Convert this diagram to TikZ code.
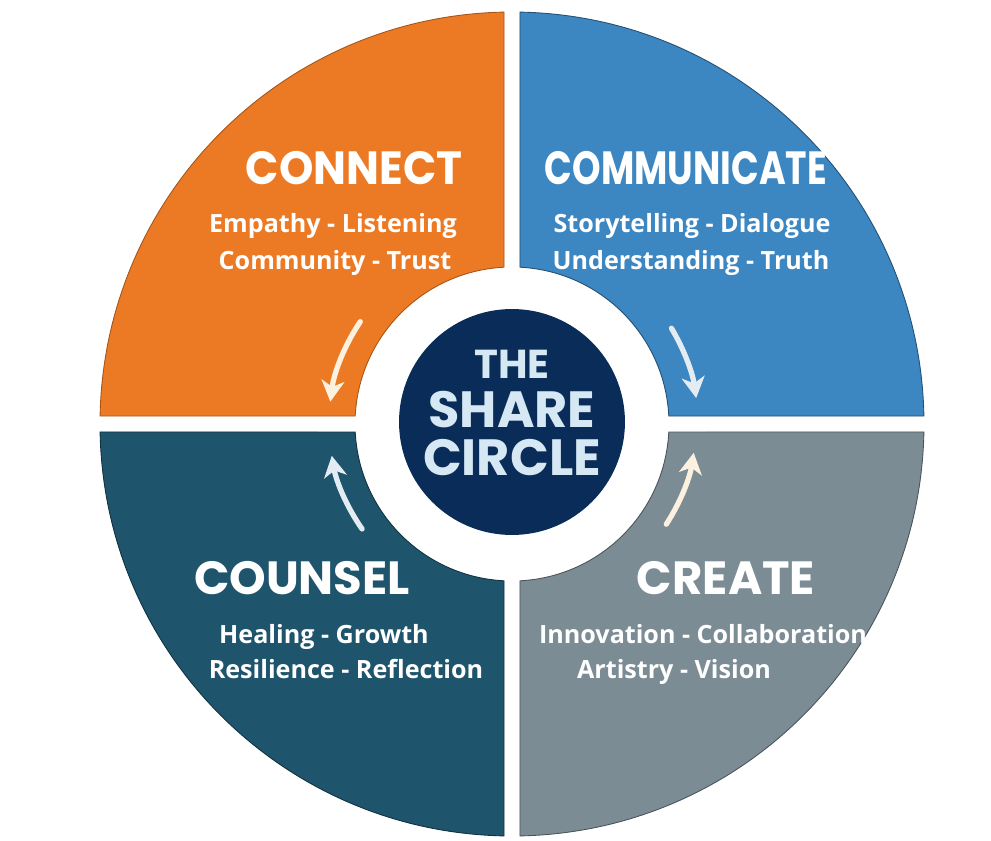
\documentclass[tikz,border=0pt]{standalone}
\usepackage{fontspec}
\setmainfont{Open Sans}
\newfontfamily\titlefont{Poppins}
\usetikzlibrary{arrows.meta}
\definecolor{shareorange}{RGB}{236,122,36}
\definecolor{shareblue}{RGB}{60,134,194}
\definecolor{shareteal}{RGB}{30,84,108}
\definecolor{sharegrey}{RGB}{124,140,149}
\definecolor{sharenavy}{RGB}{10,44,88}
\definecolor{sharetext}{RGB}{214,232,244}
\definecolor{cream}{RGB}{252,240,222}
\definecolor{icewhite}{RGB}{226,236,242}
\tikzset{
  quad/.style={line width=0.5pt},
  titletext/.style={text=white, anchor=center,
                    font=\titlefont\bfseries\fontsize{26.5}{30}\selectfont},
  subtext/.style={text=white, anchor=base,
                  font=\bfseries\fontsize{14.3}{17}\selectfont},
  hubtext/.style={text=sharetext, anchor=center,
                  font=\titlefont\bfseries\fontsize{29}{31}\selectfont},
  flow/.style={-{Stealth[length=12pt,width=13pt,inset=3.5pt]}, line width=3pt, line cap=round},
}

\begin{document}
\begin{tikzpicture}[x=0.02cm, y=0.02cm]
  \useasboundingbox (-512,-416) rectangle (479,424);

  % four quarters of the ring
  \filldraw[quad, fill=shareorange, draw=shareorange!70!black]
    (91.11:412) arc[start angle=91.11, end angle=178.89, radius=412]
    -- (177.08:157) arc[start angle=177.08, end angle=92.92, radius=157] -- cycle;
  \filldraw[quad, fill=shareblue, draw=shareblue!60!black]
    (1.11:412) arc[start angle=1.11, end angle=88.89, radius=412]
    -- (87.08:157) arc[start angle=87.08, end angle=2.92, radius=157] -- cycle;
  \filldraw[quad, fill=shareteal, draw=shareteal!60!black]
    (181.11:412) arc[start angle=181.11, end angle=268.89, radius=412]
    -- (267.08:157) arc[start angle=267.08, end angle=182.92, radius=157] -- cycle;
  \filldraw[quad, fill=sharegrey, draw=sharegrey!60!black]
    (271.11:412) arc[start angle=271.11, end angle=358.89, radius=412]
    -- (357.08:157) arc[start angle=357.08, end angle=272.92, radius=157] -- cycle;

  % hub
  \node[circle, fill=sharenavy, minimum size=4.52cm, inner sep=0pt] (hub) at (0,2) {};
  \node[hubtext, font=\titlefont\bfseries\fontsize{23}{26}\selectfont] (the) at (0,60) {THE};
  \node[hubtext] (share) at (0,14) {SHARE};
  \node[hubtext] (circ) at (0,-34) {CIRCLE};

  % titles
  \node[titletext] (connect) at (-158,256) {\scalebox{0.94}[1]{CONNECT}};
  \node[titletext] (communicate) at (174,256) {\scalebox{0.78}[1]{COMMUNICATE}};
  \node[titletext] (counsel) at (-210,-154) {COUNSEL};
  \node[titletext] (create) at (214,-154) {CREATE};

  % keywords
  \node[subtext] (conA) at (-179,192) {Empathy - Listening};
  \node[subtext] (conB) at (-177,155) {Community - Trust};
  \node[subtext] (comA) at (180,192) {Storytelling - Dialogue};
  \node[subtext] (comB) at (179,155) {Understanding - Truth};
  \node[subtext] (couA) at (-188,-219) {Healing - Growth};
  \node[subtext] (couB) at (-166,-254) {Resilience - Reflection};
  \node[subtext] (creA) at (191,-219) {Innovation - Collaboration};
  \node[subtext] (creB) at (162,-254) {Artistry - Vision};

  % curved arrows
  \coordinate (orangeflow) at (146:183);
  \coordinate (blueflow) at (31:186);
  \coordinate (greyflow) at (-33:184);
  \coordinate (tealflow) at (215:183);
  \draw[flow, cream] (orangeflow) arc[start angle=146, end angle=173, radius=183];
  \draw[flow, icewhite] (blueflow) arc[start angle=31, end angle=8, radius=186];
  \draw[flow, cream] (greyflow) arc[start angle=-33, end angle=-9, radius=184];
  \draw[flow, icewhite] (tealflow) arc[start angle=215, end angle=190, radius=183];
\end{tikzpicture}
\end{document}
